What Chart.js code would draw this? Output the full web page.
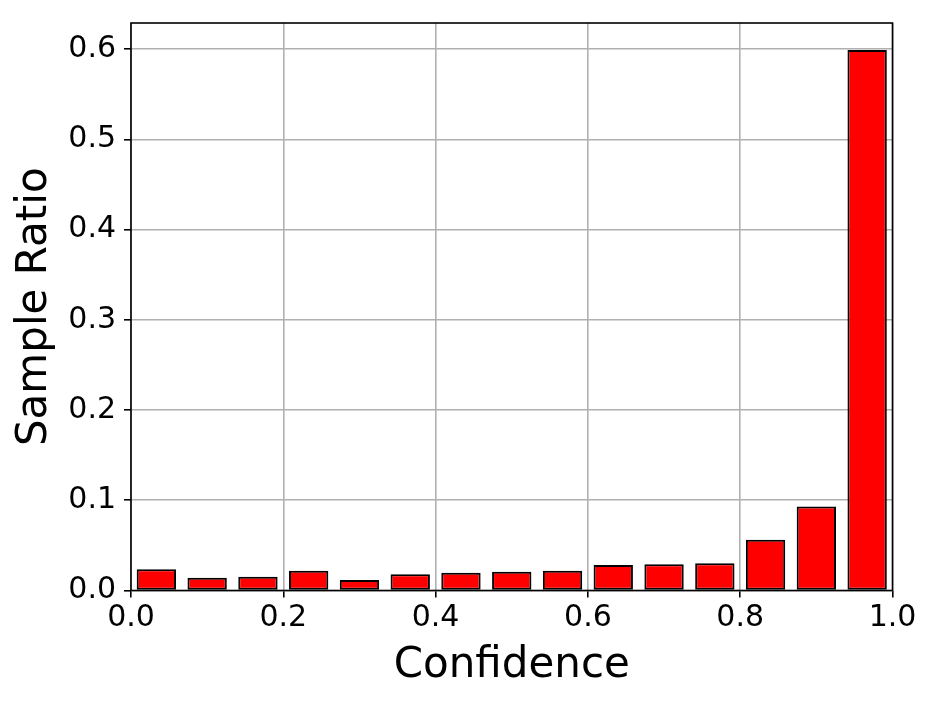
<!DOCTYPE html>
<html>
<head>
<meta charset="utf-8">
<script src="https://cdn.jsdelivr.net/npm/chart.js@4/dist/chart.umd.min.js"></script>
<style>
  html, body { margin: 0; padding: 0; background: #ffffff; }
  #wrap { width: 934px; height: 702px; }
</style>
</head>
<body>
<div id="wrap"><canvas id="c" width="934" height="702"></canvas></div>
<script>
// Bin centers (15 equal confidence bins on [0, 1])
const binCenters = [0.0333, 0.1000, 0.1667, 0.2333, 0.3000, 0.3667, 0.4333, 0.5000,
                    0.5667, 0.6333, 0.7000, 0.7667, 0.8333, 0.9000, 0.9667];
// Sample ratio per bin
const sampleRatio = [0.0235, 0.0142, 0.0153, 0.0220, 0.0116, 0.0180, 0.0197, 0.0207,
                     0.0220, 0.0283, 0.0290, 0.0302, 0.0563, 0.0930, 0.5990];
const xTicks = [0.0, 0.2, 0.4, 0.6, 0.8, 1.0];
const yTicks = [0.0, 0.1, 0.2, 0.3, 0.4, 0.5, 0.6];
const xTitle = 'Confidence';
const yTitle = 'Sample Ratio';

const FONT = '"DejaVu Sans", sans-serif';

const framePlugin = {
  id: 'frame',
  afterDatasetsDraw(chart) {
    const { ctx, chartArea: a } = chart;
    ctx.save();
    ctx.strokeStyle = '#000';
    ctx.lineWidth = 1.6;
    ctx.strokeRect(a.left, a.top, a.right - a.left, a.bottom - a.top);
    ctx.restore();
  },
  afterDraw(chart) {
    const { ctx, chartArea: a } = chart;
    ctx.save();
    ctx.fillStyle = '#000';
    ctx.font = '42px ' + FONT;
    ctx.textAlign = 'center';
    ctx.textBaseline = 'alphabetic';
    ctx.fillText(xTitle, (a.left + a.right) / 2, 677);
    ctx.translate(46, (a.top + a.bottom) / 2);
    ctx.rotate(-Math.PI / 2);
    ctx.fillText(yTitle, 0, 0);
    ctx.restore();
  }
};

new Chart(document.getElementById('c'), {
  type: 'bar',
  data: {
    datasets: [{
      data: binCenters.map((x, i) => ({ x: x, y: sampleRatio[i] })),
      backgroundColor: '#ff0000',
      borderColor: '#000000',
      borderWidth: 2,
      borderSkipped: false,
      categoryPercentage: 1.0,
      barPercentage: 0.776
    }]
  },
  options: {
    responsive: false,
    animation: false,
    devicePixelRatio: 1,
    layout: { padding: { top: 23, right: 41.5, left: 0, bottom: 0 } },
    plugins: { legend: { display: false }, tooltip: { enabled: false } },
    scales: {
      x: {
        type: 'linear',
        min: 0, max: 1,
        offset: false,
        afterFit(s) { s.height = 111.5; s.paddingLeft = 0; s.paddingRight = 0; },
        afterBuildTicks(s) { s.ticks = xTicks.map(v => ({ value: v })); },
        grid: {
          offset: false,
          color: '#b0b0b0', lineWidth: 1.6,
          drawTicks: true, tickLength: 7, tickColor: '#000', tickWidth: 1.6
        },
        border: { display: false },
        ticks: {
          color: '#000',
          font: { family: FONT, size: 30, lineHeight: 1.2 },
          padding: 3,
          maxRotation: 0,
          autoSkip: false,
          callback: v => Number(v).toFixed(1)
        }
      },
      y: {
        type: 'linear',
        min: 0, max: 0.629,
        afterFit(s) { s.width = 131; s.paddingTop = 0; s.paddingBottom = 0; },
        afterBuildTicks(s) { s.ticks = yTicks.map(v => ({ value: v })); },
        grid: {
          color: '#b0b0b0', lineWidth: 1.6,
          drawTicks: true, tickLength: 7, tickColor: '#000', tickWidth: 1.6
        },
        border: { display: false },
        ticks: {
          color: '#000',
          font: { family: FONT, size: 30, lineHeight: 1.2 },
          padding: 8,
          autoSkip: false,
          callback: v => Number(v).toFixed(1)
        }
      }
    }
  },
  plugins: [framePlugin]
});
</script>
</body>
</html>
